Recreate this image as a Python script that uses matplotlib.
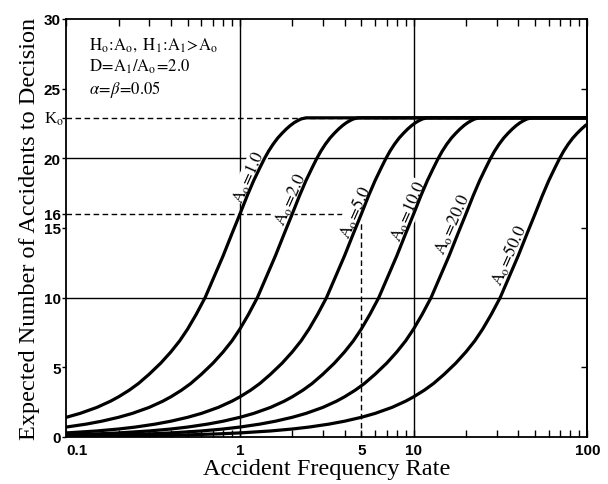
import matplotlib
matplotlib.use("Agg")
import matplotlib.pyplot as plt
from matplotlib.ticker import NullFormatter, FixedLocator
import numpy as np

plt.rcParams['mathtext.fontset'] = 'stix'

# ASN profile: expected accidents vs. rate ratio r = rate / A0
ratio = [0.002, 0.003, 0.005, 0.007, 0.01, 0.015, 0.02, 0.03, 0.04, 0.05,
         0.065, 0.08, 0.1, 0.12, 0.15, 0.18, 0.2, 0.23, 0.26, 0.3,
         0.35, 0.4, 0.45, 0.5, 0.56, 0.63, 0.71, 0.8, 0.9, 1.0,
         1.1, 1.2, 1.3, 1.38, 1.46, 1.55, 1.65, 1.75, 1.85, 1.95,
         2.05, 2.15, 2.25, 2.4, 100.0]
expected = [0.03, 0.045, 0.075, 0.1, 0.15, 0.22, 0.29, 0.43, 0.57, 0.71,
            0.92, 1.13, 1.41, 1.69, 2.12, 2.57, 2.88, 3.35, 3.83, 4.5,
            5.3, 6.1, 6.9, 7.75, 8.8, 10.0, 11.5, 13.0, 14.6, 16.0,
            17.3, 18.4, 19.3, 19.95, 20.5, 21.0, 21.45, 21.8, 22.1, 22.35,
            22.55, 22.7, 22.82, 22.9, 22.9]
a0_values = [1.0, 2.0, 5.0, 10.0, 20.0, 50.0]
k0 = 22.9
n_mark = 16
a0_mark = 5.0

# label anchor points (rate, accidents) for each A0 curve
label_x = [1.13, 1.96, 4.6, 9.35, 16.7, 35.4]
label_y = [18.7, 17.1, 16.2, 16.2, 15.3, 13.1]

serif = ['Liberation Serif', 'DejaVu Serif']
tickfont = dict(family=['Liberation Sans Narrow', 'Liberation Sans', 'DejaVu Sans'],
                weight='bold', size=11)

fig = plt.figure(figsize=(6.08, 4.85), dpi=100)
ax = fig.add_axes([0.109, 0.097, 0.857, 0.862])
ax.set_xscale('log')
ax.set_xlim(0.1, 100)
ax.set_ylim(0, 30)

# reference grid
for yv in (10, 20):
    ax.axhline(yv, color='black', lw=1.0, zorder=1)
for xv in (1, 10):
    ax.axvline(xv, color='black', lw=1.0, zorder=1)
ax.axhline(k0, color='black', lw=1.0, ls=(0, (4, 2.5)), zorder=1)
ax.plot([0.1, a0_mark], [n_mark, n_mark], color='black', lw=1.0, ls=(0, (4, 2.5)), zorder=1)
ax.plot([a0_mark, a0_mark], [0, n_mark], color='black', lw=1.0, ls=(0, (4, 2.5)), zorder=1)

r = np.array(ratio)
for a0, lx, ly in zip(a0_values, label_x, label_y):
    ax.plot(a0 * r, expected, color='black', lw=2.3, zorder=3,
            solid_capstyle='round', solid_joinstyle='round')
    ax.text(lx, ly, r'$\mathrm{A}_{\mathrm{o}}\!=\!%.1f$' % a0, rotation=66, fontsize=12.5,
            ha='center', va='center', zorder=2,
            bbox=dict(facecolor='white', edgecolor='none', pad=0.5))

ax.text(0.135, 28.2, r'$\mathrm{H}_{\mathrm{o}}\!:\!\mathrm{A}_{\mathrm{o}},\ \mathrm{H}_{1}\!:\!\mathrm{A}_{1}\!>\!\mathrm{A}_{\mathrm{o}}$',
        fontsize=12, va='center')
ax.text(0.135, 26.6, r'$\mathrm{D}\!=\!\mathrm{A}_{1}/\mathrm{A}_{\mathrm{o}}\!=\!2.0$', fontsize=12, va='center')
ax.text(0.135, 25.0, r'$\alpha\!=\!\beta\!=\!0.05$', fontsize=12, va='center')

# y ticks: left outward with labels, right inward
ax.set_yticks([0, 5, 10, 15, 16, 20, k0, 25, 30])
ax.set_yticklabels(['0', '5', '10', '15', '16', '20', '', '25', '30'], fontdict=tickfont)
ax.tick_params(axis='y', which='major', direction='out', length=3, width=1.0, pad=1)
ax.text(-0.005, k0, r'K$_{\mathrm{o}}$', transform=ax.get_yaxis_transform(), ha='right', va='center',
        fontsize=12, family=serif)
ax_r = ax.secondary_yaxis('right')
ax_r.set_yticks([5, 15, 25])
ax_r.tick_params(direction='in', length=4, width=1.0, labelright=False)

# x ticks
ax.xaxis.set_major_locator(FixedLocator([0.1, 1, 5, 10, 100]))
ax.set_xticklabels(['0.1', '1', '5', '10', '100'], fontdict=tickfont)
ax.xaxis.set_minor_locator(FixedLocator([m * d for d in (0.1, 1, 10) for m in range(2, 10)]))
ax.xaxis.set_minor_formatter(NullFormatter())
ax.tick_params(axis='x', which='both', direction='in', length=5, width=1.0, top=True, pad=4)
for lab in ax.get_xticklabels():
    if lab.get_text() == '0.1':
        lab.set_horizontalalignment('left')

for sp in ax.spines.values():
    sp.set_linewidth(1.3)
ax_r.spines['right'].set_linewidth(1.3)

ax.set_xlabel('Accident Frequency Rate', family=serif, fontsize=17.5, labelpad=1)
ax.set_ylabel('Expected Number of Accidents to Decision', family=serif, fontsize=17.5, labelpad=3)

fig.savefig('out.png', dpi=100)
